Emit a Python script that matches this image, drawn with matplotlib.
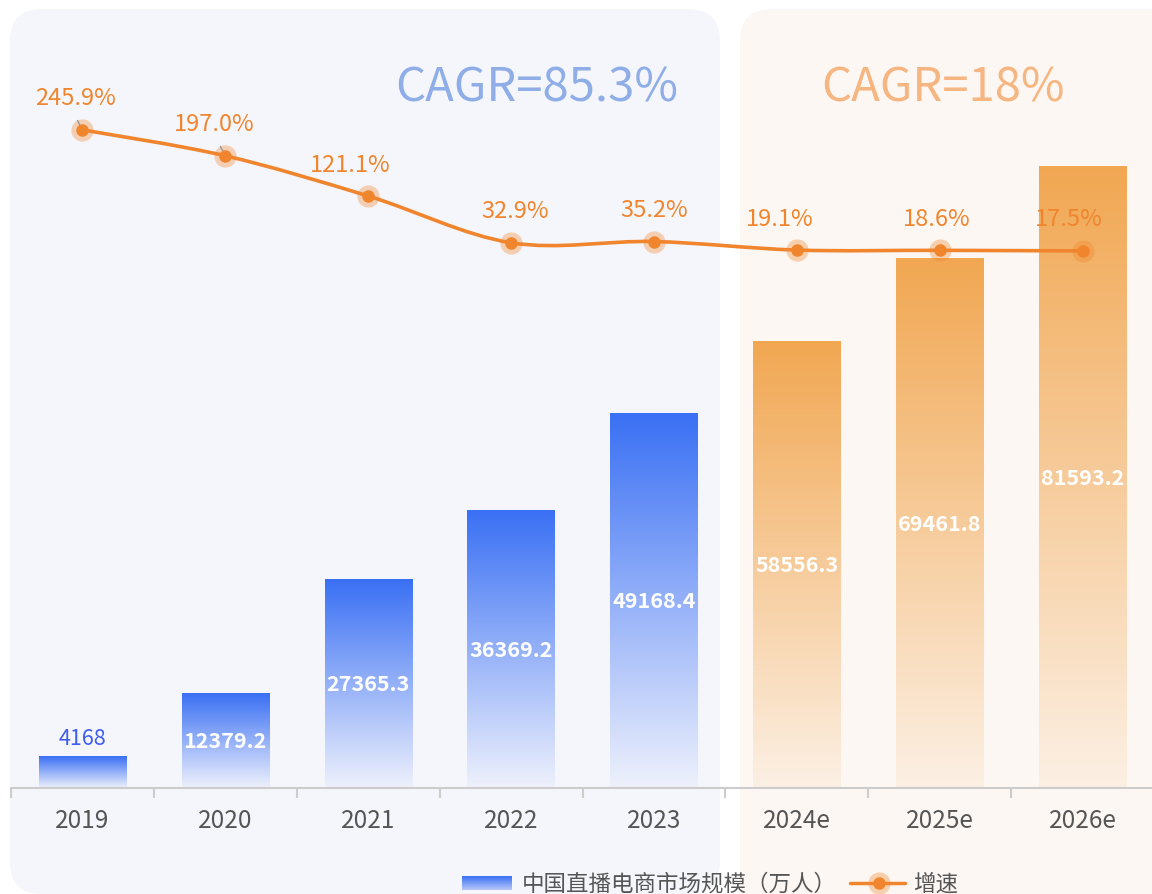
import numpy as np
import matplotlib
matplotlib.use("Agg")
import matplotlib.pyplot as plt
from matplotlib.patches import FancyBboxPatch, PathPatch
from matplotlib.path import Path
from matplotlib.colors import to_rgba

plt.rcParams['font.family'] = ['Noto Sans CJK SC', 'DejaVu Sans']

years = ['2019', '2020', '2021', '2022', '2023', '2024e', '2025e', '2026e']
scale = [4168, 12379.2, 27365.3, 36369.2, 49168.4, 58556.3, 69461.8, 81593.2]
growth = [245.9, 197.0, 121.1, 32.9, 35.2, 19.1, 18.6, 17.5]
n_actual = 5
cagr_actual = '85.3%'
cagr_forecast = '18%'
bar_name = '中国直播电商市场规模（万人）'
line_name = '增速'

ORANGE = '#F0852D'
BLUE_TOP, BLUE_BOT = '#3A70F4', '#EEF1FC'
ORG_TOP, ORG_BOT = '#F1A752', '#FCF0E4'

W, H = 1152, 895
fig = plt.figure(figsize=(W / 100, H / 100), dpi=100)
fig.patch.set_facecolor('white')

# pixel-space background layer
bg = fig.add_axes([0, 0, 1, 1])
bg.set_xlim(0, W)
bg.set_ylim(H, 0)
bg.axis('off')
bg.add_patch(FancyBboxPatch((10, 10), 710, 885, boxstyle='round,pad=0,rounding_size=32',
                            fc='#F5F6FB', ec='none'))
bg.add_patch(FancyBboxPatch((740, 10), 440, 900, boxstyle='round,pad=0,rounding_size=32',
                            fc='#FDF7F3', ec='none'))
bg.text(537, 88, 'CAGR=' + cagr_actual, ha='center', va='center', fontsize=34, color='#8FADE6')
bg.text(943, 88, 'CAGR=' + cagr_forecast, ha='center', va='center', fontsize=34, color='#F6B682')


def gradient(top, bot, n=256):
    t = np.linspace(0, 1, n)[:, None]
    c0, c1 = np.array(to_rgba(bot)), np.array(to_rgba(top))
    return (c0 + (c1 - c0) * t)[:, None, :]


# legend
bg.imshow(gradient(BLUE_TOP, '#B9C8F8'), extent=(462, 512, 891, 877), origin='lower',
          aspect='auto', zorder=2)
bg.text(522, 884, bar_name, ha='left', va='center', fontsize=16.2, color='#555555')
bg.plot([850, 905], [884, 884], color=ORANGE, lw=2.5, solid_capstyle='round')
bg.plot([879], [884], 'o', ms=16, color=ORANGE, alpha=0.35, mec='none')
bg.plot([879], [884], 'o', ms=9, color=ORANGE, mec='none')
bg.text(913, 884, line_name, ha='left', va='center', fontsize=16.2, color='#555555')
bg.set_xlim(0, W)
bg.set_ylim(H, 0)

ax = fig.add_axes([11 / W, (H - 789) / H, 1143 / W, 779 / H])
ax.patch.set_alpha(0)
x = np.arange(len(years))
bw = 0.61
for i, v in enumerate(scale):
    top, bot = (BLUE_TOP, BLUE_BOT) if i < n_actual else (ORG_TOP, ORG_BOT)
    ax.imshow(gradient(top, bot), extent=(i - bw / 2, i + bw / 2, 0, v), origin='lower',
              aspect='auto', zorder=2)
    label = f'{v:g}'
    if v < 8000:
        ax.annotate(label, (i, v), xytext=(0, 5), textcoords='offset points',
                    ha='center', va='bottom', fontsize=15.5, color='#3D5CF0')
    else:
        ax.text(i, v / 2, label, ha='center', va='center', fontsize=15.5,
                color='white', fontweight='bold', zorder=3)

ax.set_xlim(-0.5, len(years) - 0.5)
ax.set_ylim(0, 102200)
ax.set_xticks(x)
ax.set_xticklabels(years, fontsize=17.5, color='#555555')
ax.set_xticks(np.arange(-0.5, len(years)), minor=True)
ax.tick_params(axis='x', which='major', length=0, pad=14)
ax.tick_params(axis='x', which='minor', length=7, width=1.5, color='#CCCCCC')
ax.set_yticks([])
for s in ['top', 'right', 'left']:
    ax.spines[s].set_visible(False)
ax.spines['bottom'].set_color('#CCCCCC')
ax.spines['bottom'].set_linewidth(1.5)

ax2 = ax.twinx()
ax2.set_ylim(-996, 474)
ax2.axis('off')

# smooth growth line built from bezier segments
pts = np.column_stack([x, growth]).astype(float)
verts = [pts[0]]
codes = [Path.MOVETO]
for i in range(len(pts) - 1):
    p0 = pts[max(i - 1, 0)]
    p1, p2 = pts[i], pts[i + 1]
    p3 = pts[min(i + 2, len(pts) - 1)]
    verts += [p1 + (p2 - p0) / 6, p2 - (p3 - p1) / 6, p2]
    codes += [Path.CURVE4] * 3
ax2.add_patch(PathPatch(Path(verts, codes), fc='none', ec=ORANGE, lw=2.6, zorder=4))
ax2.plot(x, growth, 'o', ms=16, color=ORANGE, alpha=0.35, mec='none', zorder=5)
ax2.plot(x, growth, 'o', ms=9, color=ORANGE, mec='none', zorder=6)

label_dx = [-7, -11, -18, 4, 0, -17, -3, -14]
for i, g in enumerate(growth):
    ax2.annotate(f'{g:.1f}%', (i, g), xytext=(label_dx[i] * 0.72, 23), textcoords='offset points',
                 ha='center', va='center', fontsize=17, color=ORANGE, zorder=7)
for i in range(2):
    ax2.annotate('', (i, growth[i]), xytext=(-4.5, 8.5), textcoords='offset points',
                 arrowprops=dict(arrowstyle='-', color='#999999', lw=1), zorder=5)

fig.savefig('out.png', dpi=100)
